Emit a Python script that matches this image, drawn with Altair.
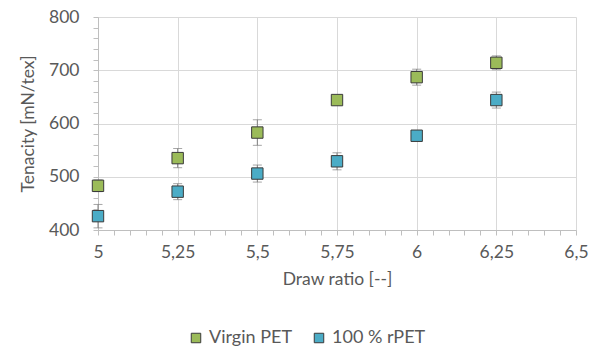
import altair as alt
import pandas as pd

draw_ratio = [5, 5.25, 5.5, 5.75, 6, 6.25]
virgin = [483, 535, 583, 644, 687, 714]
virgin_err = [11, 18, 24, 4, 15, 13]
rpet = [426, 472, 506, 529, 577, 644]
rpet_err = [22, 15, 16, 16, 4, 15]
series_names = ["Virgin PET", "100 % rPET"]
series_colors = ["#9bbb59", "#4bacc6"]
x_tick_values = [5.0, 5.05, 5.1, 5.15, 5.2, 5.25, 5.3, 5.35, 5.4, 5.45, 5.5, 5.55, 5.6, 5.65,
                 5.7, 5.75, 5.8, 5.85, 5.9, 5.95, 6.0, 6.05, 6.1, 6.15, 6.2, 6.25, 6.3, 6.35,
                 6.4, 6.45, 6.5]
y_tick_values = [400, 420, 440, 460, 480, 500, 520, 540, 560, 580, 600, 620, 640, 660, 680,
                 700, 720, 740, 760, 780, 800]

rows = []
for s, vals, errs in [(series_names[0], virgin, virgin_err), (series_names[1], rpet, rpet_err)]:
    for r, v, e in zip(draw_ratio, vals, errs):
        rows.append({"series": s, "ratio": r, "value": v, "lo": v - e, "hi": v + e})
df = pd.DataFrame(rows)

FONT = "Lato"
TXT = "#595959"

x_major = "abs(round(datum.value*4)-datum.value*4)<0.001"
y_major = "abs(round(datum.value/100)-datum.value/100)<0.001"

common = dict(labelFont=FONT, titleFont=FONT, labelColor=TXT, titleColor=TXT,
              titleFontWeight="normal", gridColor="#d9d9d9", domainColor="#bfbfbf",
              tickColor="#bfbfbf", labelOverlap=False)

xaxis = alt.Axis(
    values=x_tick_values,
    labelExpr=f"{x_major} ? replace(format(datum.value,'~g'),'.',',') : ''",
    gridOpacity={"condition": {"test": x_major, "value": 1}, "value": 0},
    tickSize=5, labelPadding=8, labelFontSize=17.5, titleFontSize=17.5,
    titlePadding=10, labelFlush=False, **common,
)
yaxis = alt.Axis(
    values=y_tick_values,
    labelExpr=f"{y_major} ? format(datum.value,'d') : ''",
    gridOpacity={"condition": {"test": y_major, "value": 1}, "value": 0},
    tickSize=5, labelPadding=14, labelFontSize=17.5, titleFontSize=17.5,
    titlePadding=11, **common,
)
xscale = alt.Scale(domain=[5, 6.5], nice=False, zero=False)
yscale = alt.Scale(domain=[400, 800], nice=False, zero=False)
YT = "Tenacity  [mN/tex]"

X = alt.X("ratio:Q", scale=xscale, axis=xaxis, title="Draw ratio [--]")

base = alt.Chart(df)
rules = base.mark_rule(color="#7f7f7f", strokeWidth=1).encode(
    x=X,
    y=alt.Y("lo:Q", scale=yscale, axis=yaxis, title=YT),
    y2="hi:Q",
)
cap_lo = base.mark_tick(orient="horizontal", size=9, thickness=1, color="#7f7f7f").encode(
    x=X, y=alt.Y("lo:Q", scale=yscale, axis=yaxis, title=YT))
cap_hi = base.mark_tick(orient="horizontal", size=9, thickness=1, color="#7f7f7f").encode(
    x=X, y=alt.Y("hi:Q", scale=yscale, axis=yaxis, title=YT))
points = base.mark_square(size=130, stroke="#3a3a3a", strokeWidth=1, opacity=1).encode(
    x=X,
    y=alt.Y("value:Q", scale=yscale, axis=yaxis, title=YT),
    fill=alt.Fill("series:N", scale=alt.Scale(domain=series_names, range=series_colors),
                  legend=alt.Legend(title=None, orient="none", direction="horizontal",
                                    legendX=89, legendY=312, symbolType="square",
                                    symbolSize=90, symbolStrokeColor="#3a3a3a",
                                    symbolStrokeWidth=1, labelFontSize=18, labelOffset=4,
                                    columnPadding=17, labelColor=TXT, labelFont=FONT)),
)

chart = alt.layer(rules, cap_lo, cap_hi, points).properties(
    width=478, height=213,
    padding={"left": 98, "top": 17, "right": 24, "bottom": 131},
    autosize="none", background="white",
).configure_view(stroke=None)

chart.save("out.html", embed_options={"renderer": "svg", "actions": False})
